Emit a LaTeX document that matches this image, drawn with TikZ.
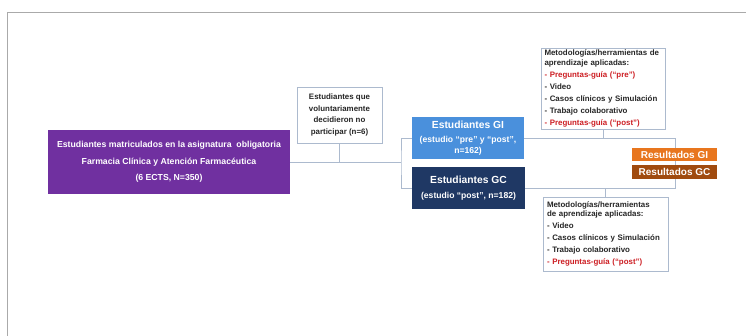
\documentclass[tikz,border=0pt]{standalone}
\usepackage{fontspec}
\setmainfont{Liberation Sans}
\usepackage{xcolor}

\definecolor{matpurple}{RGB}{112,48,160}
\definecolor{giblue}{RGB}{74,144,220}
\definecolor{gcnavy}{RGB}{31,56,100}
\definecolor{resorange}{RGB}{232,118,30}
\definecolor{resbrown}{RGB}{160,75,15}
\definecolor{linkgray}{RGB}{172,186,206}
\definecolor{guiared}{RGB}{205,30,35}
\definecolor{framegray}{RGB}{170,170,170}

\tikzset{
  filledbox/.style={inner sep=0pt, align=center, text=white, font=\bfseries},
  whitebox/.style={draw=linkgray, fill=white, inner ysep=0pt, align=left, text=black!85, font=\bfseries\fontsize{7.9}{9.5}\selectfont},
  link/.style={draw=linkgray, line width=0.8pt},
}

\newcommand{\guia}[1]{\textcolor{guiared}{- Preguntas-guía (“#1”)}}

\begin{document}
\begin{tikzpicture}[x=1pt,y=-1pt]
		\useasboundingbox (0,0) rectangle (746,336);
		%draw frame
		\draw [framegray, line width=0.8pt] (7,336) -- (7,12) -- (746,12);

		%draw boxes
		\node[filledbox, fill=matpurple, minimum width=242pt, minimum height=64pt, font=\bfseries\fontsize{8.7}{16.5}\selectfont] (matric) at (169,162)
			{Estudiantes matriculados en la asignatura\ \ obligatoria\\ Farmacia Clínica y Atención Farmacéutica\\ (6 ECTS, N=350)};
		\node[whitebox, align=center, inner xsep=0pt, minimum width=85pt, minimum height=56pt, font=\bfseries\fontsize{7.9}{11.6}\selectfont] (noparticip) at (339.5,115)
			{Estudiantes que\\ voluntariamente\\ decidieron no\\ participar (n=6)};
		\node[filledbox, fill=giblue, minimum width=112pt, minimum height=42pt] (gi) at (468,138)
			{{\fontsize{10.3}{10}\selectfont Estudiantes GI}\\[2pt] {\fontsize{8.6}{9}\selectfont (estudio “pre” y “post”,}\\[-0.5pt] {\fontsize{8.6}{9}\selectfont n=162)}};
		\node[filledbox, fill=gcnavy, minimum width=113pt, minimum height=42pt] (gc) at (468.5,188)
			{{\fontsize{10.3}{10}\selectfont Estudiantes GC}\\[3pt] {\fontsize{8.6}{9}\selectfont (estudio “post”, n=182)}};

		%methodology boxes
		\node[whitebox, text width=117pt, inner xsep=3.5pt, minimum height=81pt] (metgi) at (603,88.5)
			{Metodologías/herramientas de\\ aprendizaje aplicadas:\\[2.5pt] \guia{pre}\\[2.5pt] - Video\\[2.5pt] - Casos clínicos y Simulación\\[2.5pt] - Trabajo colaborativo\\[2.5pt] \guia{post}};
		\node[whitebox, text width=117pt, inner xsep=4pt, minimum height=74pt] (metgc) at (605.5,234)
			{Metodologías/herramientas\\ de aprendizaje aplicadas:\\[2.5pt] - Video\\[2.5pt] - Casos clínicos y Simulación\\[2.5pt] - Trabajo colaborativo\\[2.5pt] \guia{post}};

		%connectors
		\coordinate (split) at (401,162);
		\coordinate (join) at (675,162);
		\draw [link] (matric.east) -- (split);
		\draw [link] (noparticip.south) -- (noparticip.south |- matric.east);
		\draw [link] (gi.west) -| (split) |- (gc.west);
		\draw [link] (gi.east) -| (join) |- (gc.east);
		\draw [link] (metgi.south) -- (metgi.south |- gi.east);
		\draw [link] (metgc.north) -- (metgc.north |- gc.east);

		%results
		\node[filledbox, fill=resorange, minimum width=85pt, minimum height=13pt, font=\bfseries\fontsize{10}{10}\selectfont] (resgi) at (674.5,154.5) {Resultados GI};
		\node[filledbox, fill=resbrown, minimum width=85pt, minimum height=14pt, font=\bfseries\fontsize{10}{10}\selectfont] (resgc) at (674.5,172) {Resultados GC};
\end{tikzpicture}
\end{document}
